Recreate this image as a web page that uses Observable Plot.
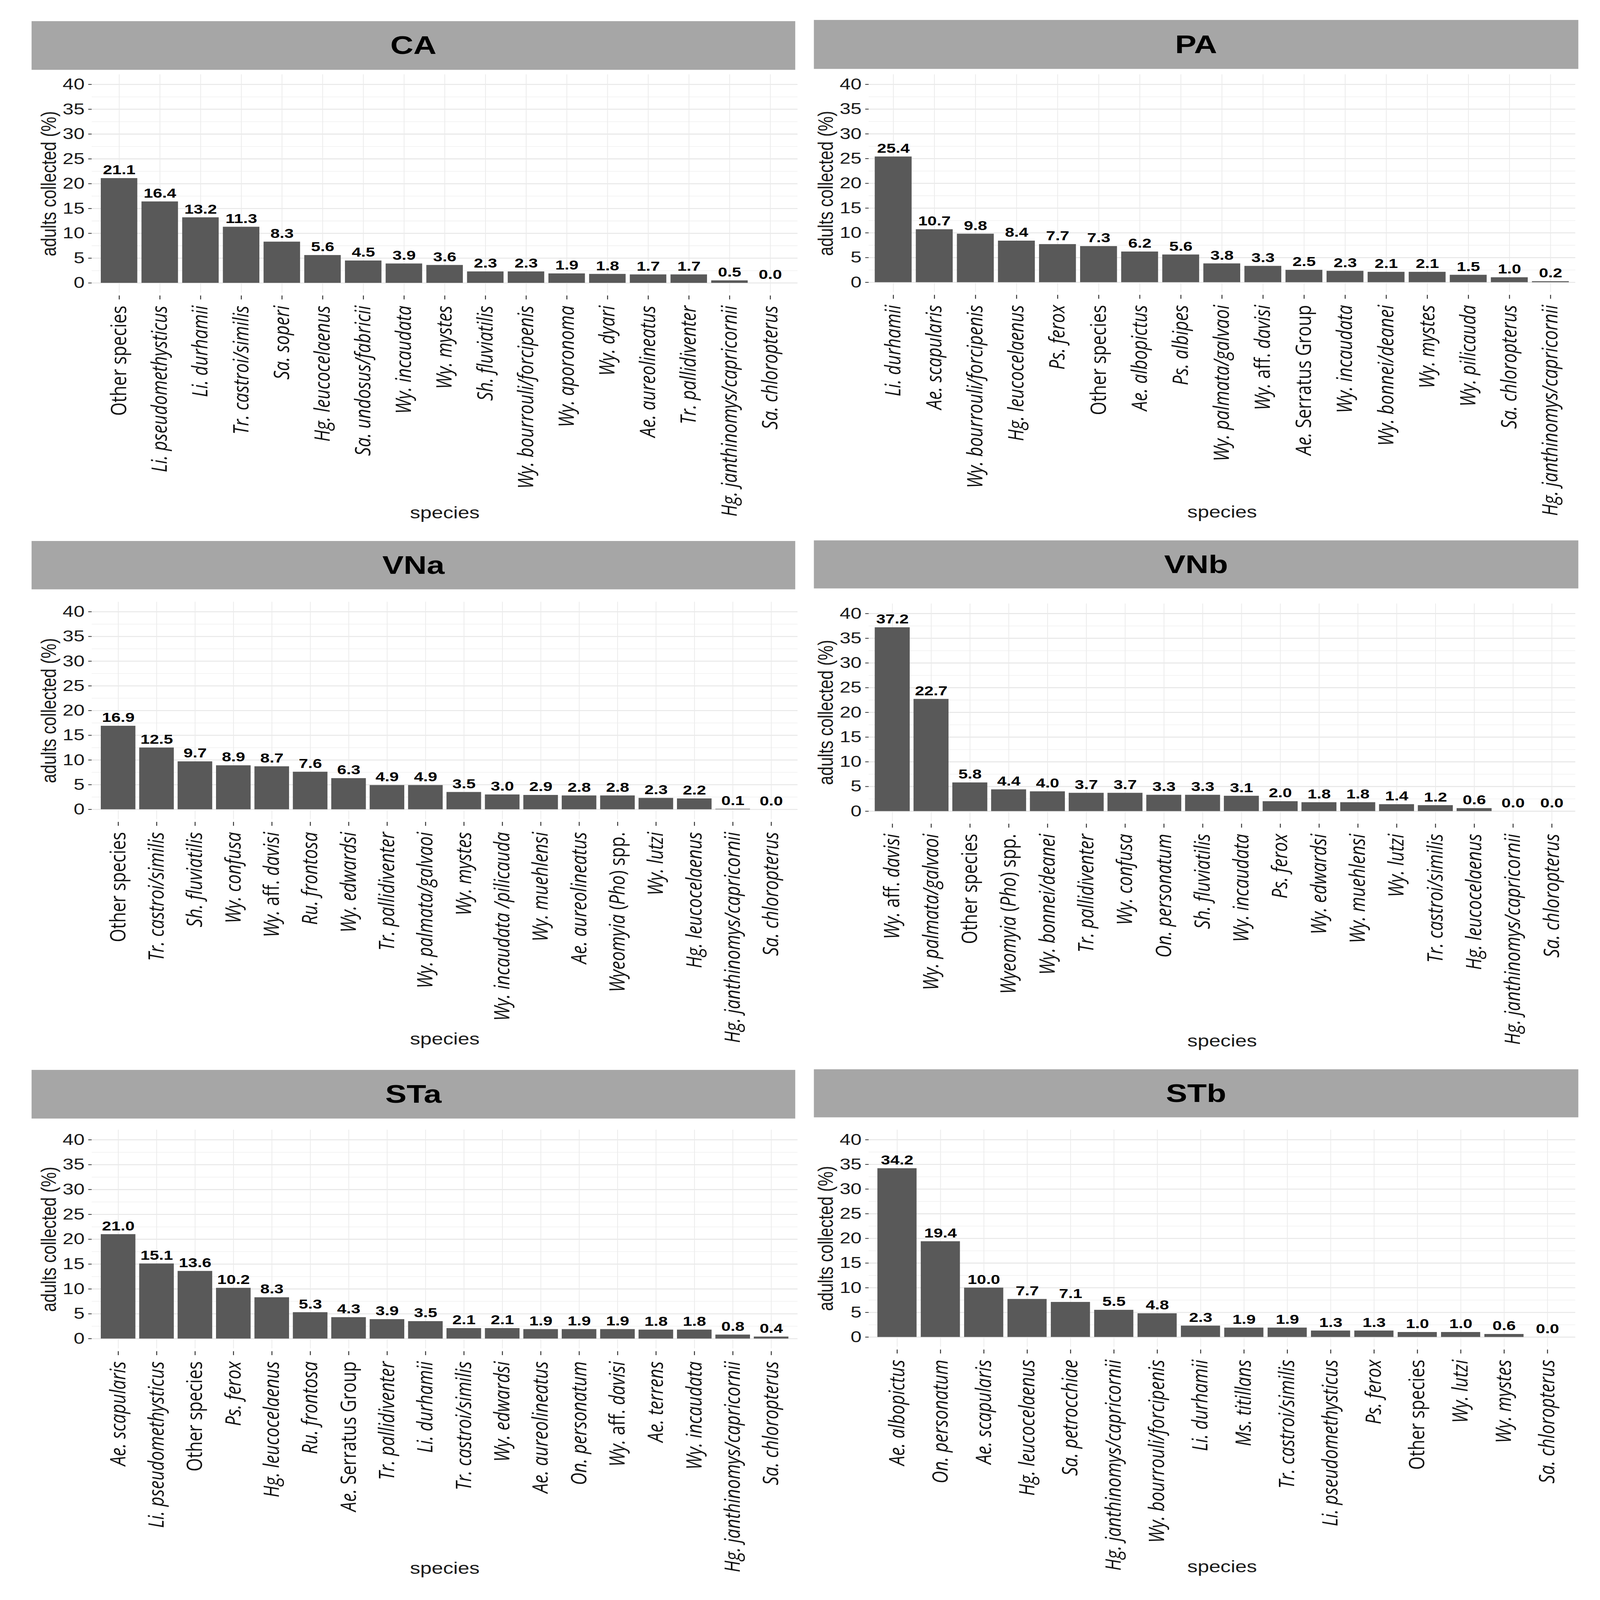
<!DOCTYPE html>
<html>
<head>
<meta charset="utf-8">
<script src="https://cdn.jsdelivr.net/npm/d3@7"></script>
<script src="https://cdn.jsdelivr.net/npm/@observablehq/plot@0.6"></script>
<style>
  html, body { margin: 0; padding: 0; background: #fff; overflow: hidden; }
  #viewport { position: relative; overflow: hidden; background: #fff; }
  #page { position: absolute; left: 0; top: 0; width: 4207px; height: 5294px; background: #fff; transform-origin: 0 0; }
  .strip { position: absolute; background: #A6A6A6; display: flex; align-items: center; justify-content: center;
           font-family: "Liberation Sans", Arial, sans-serif; font-weight: bold; font-size: 84px; color: #000; }
  .panel { position: absolute; }
</style>
</head>
<body>
<div id="viewport"><div id="page"></div></div>
<script>
// ---------------- DATA ----------------
const panelNames = ["CA", "PA", "VNa", "VNb", "STa", "STb"];

const caSpecies = ["Other species", "Li. pseudomethysticus", "Li. durhamii", "Tr. castroi/similis", "Sa. soperi",
  "Hg. leucocelaenus", "Sa. undosus/fabricii", "Wy. incaudata", "Wy. mystes", "Sh. fluviatilis",
  "Wy. bourrouli/forcipenis", "Wy. aporonoma", "Wy. dyari", "Ae. aureolineatus", "Tr. pallidiventer",
  "Hg. janthinomys/capricornii", "Sa. chloropterus"];
const caValues = [21.1, 16.4, 13.2, 11.3, 8.3, 5.6, 4.5, 3.9, 3.6, 2.3, 2.3, 1.9, 1.8, 1.7, 1.7, 0.5, 0.0];

const paSpecies = ["Li. durhamii", "Ae. scapularis", "Wy. bourrouli/forcipenis", "Hg. leucocelaenus", "Ps. ferox",
  "Other species", "Ae. albopictus", "Ps. albipes", "Wy. palmata/galvaoi", "Wy. aff. davisi",
  "Ae. Serratus Group", "Wy. incaudata", "Wy. bonnei/deanei", "Wy. mystes", "Wy. pilicauda",
  "Sa. chloropterus", "Hg. janthinomys/capricornii"];
const paValues = [25.4, 10.7, 9.8, 8.4, 7.7, 7.3, 6.2, 5.6, 3.8, 3.3, 2.5, 2.3, 2.1, 2.1, 1.5, 1.0, 0.2];

const vnaSpecies = ["Other species", "Tr. castroi/similis", "Sh. fluviatilis", "Wy. confusa", "Wy. aff. davisi",
  "Ru. frontosa", "Wy. edwardsi", "Tr. pallidiventer", "Wy. palmata/galvaoi", "Wy. mystes",
  "Wy. incaudata /pilicauda", "Wy. muehlensi", "Ae. aureolineatus", "Wyeomyia (Pho) spp.", "Wy. lutzi",
  "Hg. leucocelaenus", "Hg. janthinomys/capricornii", "Sa. chloropterus"];
const vnaValues = [16.9, 12.5, 9.7, 8.9, 8.7, 7.6, 6.3, 4.9, 4.9, 3.5, 3.0, 2.9, 2.8, 2.8, 2.3, 2.2, 0.1, 0.0];

const vnbSpecies = ["Wy. aff. davisi", "Wy. palmata/galvaoi", "Other species", "Wyeomyia (Pho) spp.", "Wy. bonnei/deanei",
  "Tr. pallidiventer", "Wy. confusa", "On. personatum", "Sh. fluviatilis", "Wy. incaudata",
  "Ps. ferox", "Wy. edwardsi", "Wy. muehlensi", "Wy. lutzi", "Tr. castroi/similis",
  "Hg. leucocelaenus", "Hg. janthinomys/capricornii", "Sa. chloropterus"];
const vnbValues = [37.2, 22.7, 5.8, 4.4, 4.0, 3.7, 3.7, 3.3, 3.3, 3.1, 2.0, 1.8, 1.8, 1.4, 1.2, 0.6, 0.0, 0.0];

const staSpecies = ["Ae. scapularis", "Li. pseudomethysticus", "Other species", "Ps. ferox", "Hg. leucocelaenus",
  "Ru. frontosa", "Ae. Serratus Group", "Tr. pallidiventer", "Li. durhamii", "Tr. castroi/similis",
  "Wy. edwardsi", "Ae. aureolineatus", "On. personatum", "Wy. aff. davisi", "Ae. terrens",
  "Wy. incaudata", "Hg. janthinomys/capricornii", "Sa. chloropterus"];
const staValues = [21.0, 15.1, 13.6, 10.2, 8.3, 5.3, 4.3, 3.9, 3.5, 2.1, 2.1, 1.9, 1.9, 1.9, 1.8, 1.8, 0.8, 0.4];

const stbSpecies = ["Ae. albopictus", "On. personatum", "Ae. scapularis", "Hg. leucocelaenus", "Sa. petrocchiae",
  "Hg. janthinomys/capricornii", "Wy. bourrouli/forcipenis", "Li. durhamii", "Ms. titillans", "Tr. castroi/similis",
  "Li. pseudomethysticus", "Ps. ferox", "Other species", "Wy. lutzi", "Wy. mystes", "Sa. chloropterus"];
const stbValues = [34.2, 19.4, 10.0, 7.7, 7.1, 5.5, 4.8, 2.3, 1.9, 1.9, 1.3, 1.3, 1.0, 1.0, 0.6, 0.0];

const yTickValues = [0, 5, 10, 15, 20, 25, 30, 35, 40];
const yMinorValues = [2.5, 7.5, 12.5, 17.5, 22.5, 27.5, 32.5, 37.5];
const yTitle = "adults collected (%)";
const xTitle = "species";

// ---------------- LAYOUT ----------------
const PAGE_W = 4207, PAGE_H = 5294;
const columns = [
  {stripLeft: 83, stripRight: 2091, panelLeft: 241, panelRight: 2097},
  {stripLeft: 2140, stripRight: 4150, panelLeft: 2284, panelRight: 4142}
];
const layouts = {
  CA:  {col: 0, stripTop: 70,   stripBottom: 231,  y40: 279,  y0: 936},
  PA:  {col: 1, stripTop: 66,   stripBottom: 228,  y40: 279,  y0: 934},
  VNa: {col: 0, stripTop: 1790, stripBottom: 1950, y40: 2024, y0: 2678},
  VNb: {col: 1, stripTop: 1788, stripBottom: 1947, y40: 2030, y0: 2684},
  STa: {col: 0, stripTop: 3540, stripBottom: 3701, y40: 3771, y0: 4429},
  STb: {col: 1, stripTop: 3538, stripBottom: 3697, y40: 3771, y0: 4424}
};
const panelData = {
  CA: [caSpecies, caValues], PA: [paSpecies, paValues],
  VNa: [vnaSpecies, vnaValues], VNb: [vnbSpecies, vnbValues],
  STa: [staSpecies, staValues], STb: [stbSpecies, stbValues]
};

const upright = new Set(["Other", "species", "aff.", "Serratus", "Group", "spp.", "(", ")"]);
function styleLabel(textEl) {
  const label = textEl.textContent;
  const tokens = label.match(/\(|\)|[^\s()]+|\s+/g) || [label];
  while (textEl.firstChild) textEl.removeChild(textEl.firstChild);
  for (const t of tokens) {
    const ts = document.createElementNS("http://www.w3.org/2000/svg", "tspan");
    ts.textContent = t;
    ts.setAttribute("font-style", (upright.has(t) || /^\s+$/.test(t)) ? "normal" : "italic");
    textEl.appendChild(ts);
  }
}

const viewport = document.getElementById("viewport");
const page = document.getElementById("page");
const ML = 200, MR = 20, MT = 60, MB = 790;

for (const name of panelNames) {
  const L = layouts[name];
  const C = columns[L.col];
  const [species, values] = panelData[name];
  const data = species.map((s, i) => ({species: s, value: values[i]}));

  const strip = document.createElement("div");
  strip.className = "strip";
  strip.style.left = C.stripLeft + "px";
  strip.style.top = L.stripTop + "px";
  strip.style.width = (C.stripRight - C.stripLeft) + "px";
  strip.style.height = (L.stripBottom - L.stripTop) + "px";
  strip.textContent = name;
  page.appendChild(strip);

  const u = (L.y0 - L.y40) / 40;
  const panelTop = L.y40 - 2 * u;
  const panelBottom = L.y0 + 2 * u;
  const width = (C.panelRight - C.panelLeft) + ML + MR;
  const height = MT + (panelBottom - panelTop) + MB;

  const svg = Plot.plot({
    width, height,
    marginLeft: ML, marginRight: MR, marginTop: MT, marginBottom: MB,
    style: {background: "transparent", fontFamily: "'Liberation Sans', Arial, sans-serif", overflow: "visible"},
    x: {type: "band", domain: species, paddingInner: 0.1, paddingOuter: 0.15, label: null},
    y: {domain: [-2, 42], label: null},
    marks: [
      Plot.gridY(yMinorValues, {stroke: "#F0F0F0", strokeOpacity: 1, strokeWidth: 2}),
      Plot.gridY(yTickValues, {stroke: "#E6E6E6", strokeOpacity: 1, strokeWidth: 3}),
      Plot.gridX(species, {stroke: "#EBEBEB", strokeOpacity: 1, strokeWidth: 2}),
      Plot.barY(data, {x: "species", y: "value", fill: "#595959"}),
      Plot.text(data, {x: "species", y: "value", text: d => d.value.toFixed(1), lineAnchor: "bottom", dy: -13,
        fontWeight: "bold", fontSize: 44, fill: "#000"}),
      Plot.axisY(yTickValues, {tickSize: 9, tickPadding: 10, fontSize: 52, stroke: "#333", strokeWidth: 2.5,
        fill: "#1a1a1a", label: null}),
      Plot.axisX(species, {tickSize: 13, dy: 9, tickPadding: 20, tickRotate: -90, fontSize: 57,
        fontFamily: "'Open Sans', 'Noto Sans', sans-serif", stroke: "#333", strokeWidth: 2.5, fill: "#111", label: null}),
      Plot.text([yTitle], {frameAnchor: "left", dx: -112, rotate: -90, textAnchor: "middle", lineAnchor: "middle",
        fontSize: 55, fill: "#1a1a1a"}),
      Plot.text([xTitle], {frameAnchor: "bottom", dy: 728, textAnchor: "middle", lineAnchor: "middle",
        fontSize: 54, fill: "#1a1a1a"})
    ]
  });
  svg.classList.add("panel");
  svg.style.position = "absolute";
  svg.style.left = (C.panelLeft - ML) + "px";
  svg.style.top = (panelTop - MT) + "px";
  svg.querySelectorAll('g[aria-label="x-axis tick label"] text').forEach(styleLabel);
  page.appendChild(svg);
}

// Fit the full page into whatever window the page is opened in.
function fitPage() {
  const vw = window.innerWidth || PAGE_W;
  const vh = window.innerHeight || PAGE_H;
  const sx = vw / PAGE_W, sy = vh / PAGE_H;
  viewport.style.width = vw + "px";
  viewport.style.height = vh + "px";
  page.style.transform = (sx === 1 && sy === 1) ? "none" : `scale(${sx}, ${sy})`;
}
fitPage();
window.addEventListener("resize", fitPage);
</script>
</body>
</html>
